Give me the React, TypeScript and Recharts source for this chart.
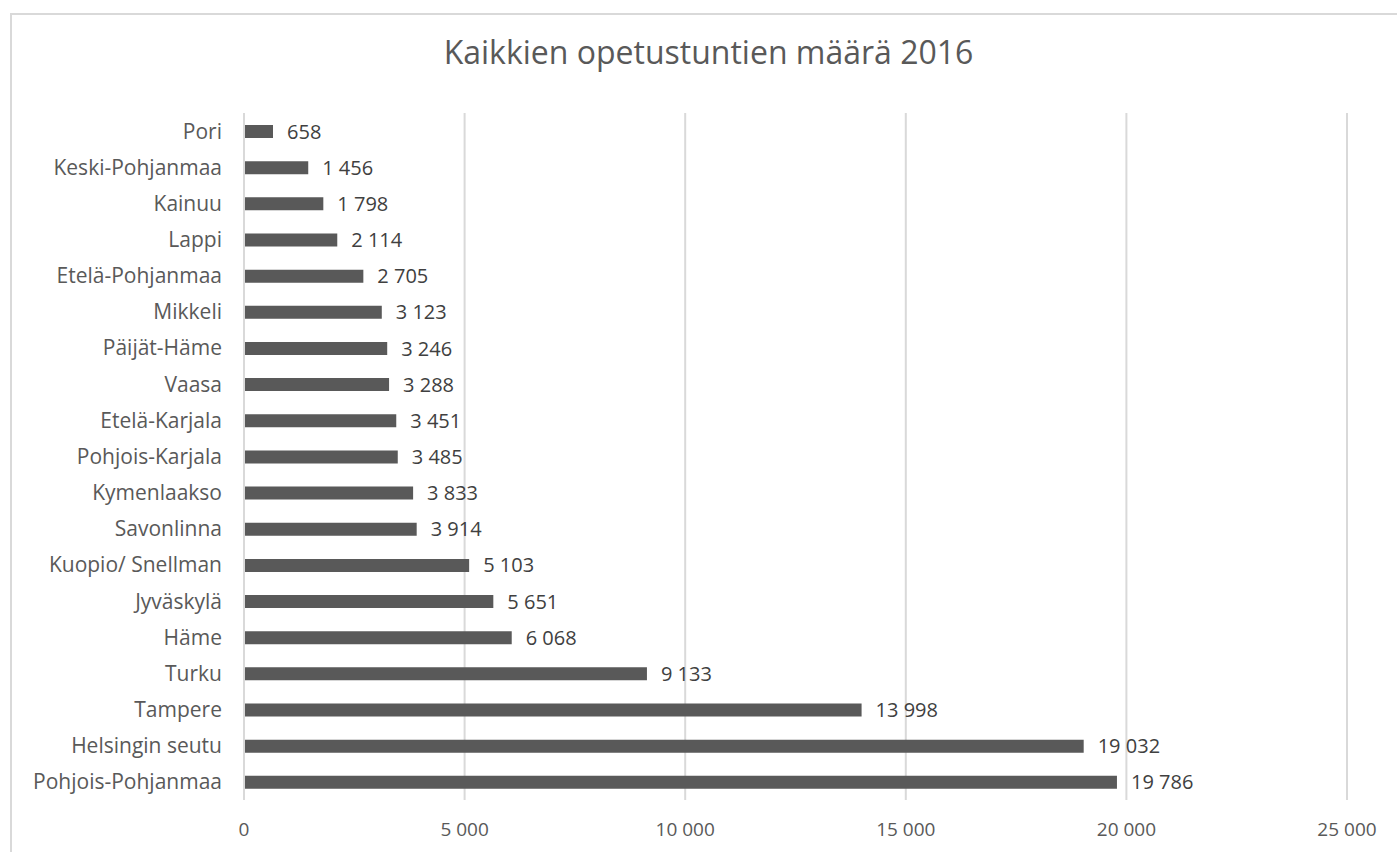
import React from 'react';
import { BarChart, Bar, XAxis, YAxis, CartesianGrid, LabelList } from 'recharts';

const categories = [
  'Pori',
  'Keski-Pohjanmaa',
  'Kainuu',
  'Lappi',
  'Etelä-Pohjanmaa',
  'Mikkeli',
  'Päijät-Häme',
  'Vaasa',
  'Etelä-Karjala',
  'Pohjois-Karjala',
  'Kymenlaakso',
  'Savonlinna',
  'Kuopio/ Snellman',
  'Jyväskylä',
  'Häme',
  'Turku',
  'Tampere',
  'Helsingin seutu',
  'Pohjois-Pohjanmaa',
];

const hours = [
  658, 1456, 1798, 2114, 2705, 3123, 3246, 3288, 3451, 3485, 3833, 3914, 5103, 5651, 6068, 9133, 13998,
  19032, 19786,
];

const xTicks = [0, 5000, 10000, 15000, 20000, 25000];

const data = categories.map((name, i) => ({ name, value: hours[i] }));

const FONT = '"Open Sans", sans-serif';
const TEXT = '#595959';

// Finnish style thousands: "19 786"
const fmt = (v: number) => String(v).replace(/\B(?=(\d{3})+(?!\d))/g, ' ');

export default function App() {
  return (
    <div style={{ position: 'absolute', left: 0, top: 0, width: 1397, height: 852, background: '#fff', overflow: 'hidden' }}>
      <div
        style={{
          position: 'absolute',
          left: 10,
          top: 13,
          width: 1400,
          height: 900,
          border: '2px solid #d9d9d9',
          boxSizing: 'border-box',
        }}
      />
      <div
        style={{
          position: 'absolute',
          left: 0,
          top: 30,
          width: 1417,
          textAlign: 'center',
          fontFamily: FONT,
          fontSize: 32,
          lineHeight: '44px',
          color: TEXT,
        }}
      >
        Kaikkien opetustuntien määrä 2016
      </div>
      <div style={{ position: 'absolute', left: 0, top: 0 }}>
        <BarChart
          layout="vertical"
          width={1397}
          height={852}
          data={data}
          margin={{ top: 113, right: 50, bottom: 12, left: 10 }}
          barCategoryGap={0}
        >
          <CartesianGrid horizontal={false} stroke="#d9d9d9" strokeWidth={2} />
          <XAxis
            type="number"
            domain={[0, 25000]}
            ticks={xTicks}
            tickFormatter={fmt}
            axisLine={false}
            tickLine={false}
            height={40}
            tickMargin={17}
            tick={{ fill: TEXT, fontSize: 19, fontFamily: FONT }}
          />
          <YAxis
            type="category"
            dataKey="name"
            width={234}
            axisLine={{ stroke: '#d9d9d9', strokeWidth: 2 }}
            tickLine={false}
            tickMargin={16}
            interval={0}
            tick={{ fill: TEXT, fontSize: 21, fontFamily: FONT }}
          />
          <Bar dataKey="value" fill="#595959" barSize={13} isAnimationActive={false}>
            <LabelList
              dataKey="value"
              position="right"
              offset={14}
              formatter={(v: number) => fmt(v)}
              style={{ fill: '#404040', fontSize: 20, fontFamily: FONT }}
            />
          </Bar>
        </BarChart>
      </div>
    </div>
  );
}
